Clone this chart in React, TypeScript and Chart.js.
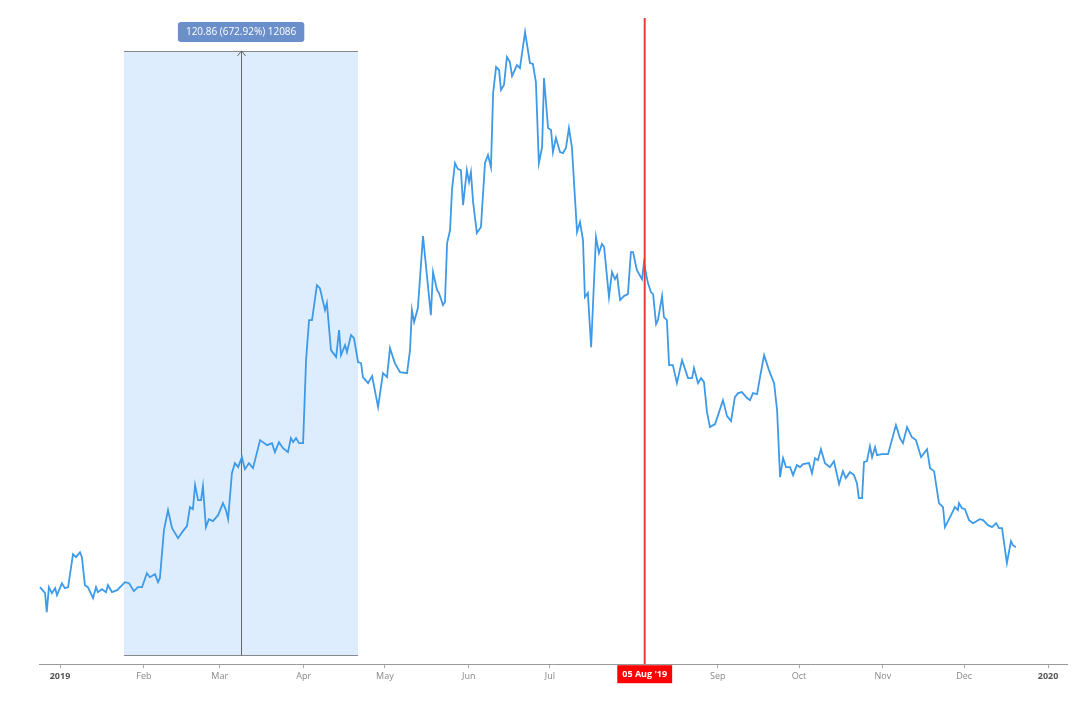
import { useEffect, useRef } from 'react'
import { Chart, registerables } from 'chart.js'

Chart.register(...registerables)

// day offsets from 1 Jan 2019
const DAYS = [
  -7.4, -5.5, -4.9, -4.1, -3.0, -1.8, -1.1, 0.7, 1.8, 3.0, 4.8, 5.9, 7.4, 8.1, 9.2, 10.3, 12.2, 13.3, 14.0, 15.5,
  17.0, 17.7, 19.2, 21.1, 24.0, 25.5, 27.3, 28.8, 30.3, 32.1, 33.2, 35.1, 36.2, 36.9, 38.4, 39.9, 41.4, 43.6, 45.4, 46.9,
  48.0, 49.1, 49.9, 51.0, 52.1, 52.8, 53.9, 55.0, 56.5, 58.4, 60.2, 61.3, 62.1, 63.5, 64.6, 65.8, 67.2, 68.3, 69.8, 71.3,
  73.9, 76.5, 78.3, 79.4, 80.9, 82.4, 84.2, 85.3, 86.1, 87.2, 88.3, 89.8, 90.9, 92.0, 93.1, 94.9, 96.0, 97.9, 98.6, 100.1,
  102.0, 103.1, 103.8, 105.3, 106.0, 107.5, 108.6, 110.1, 111.2, 111.9, 113.8, 115.3, 117.5, 119.3, 120.8, 121.9, 123.7, 125.6, 128.2, 129.3,
  130.0, 130.8, 132.2, 134.1, 135.6, 137.0, 137.8, 139.3, 140.0, 141.5, 142.2, 143.0, 144.1, 144.8, 145.9, 147.0, 148.1, 148.9, 150.3, 151.1,
  151.8, 152.6, 154.0, 155.5, 157.0, 158.1, 159.2, 160.0, 161.1, 162.2, 162.9, 164.0, 165.1, 166.2, 167.0, 168.8, 169.9, 171.8, 173.6, 174.7,
  175.8, 176.9, 178.1, 178.8, 180.3, 181.4, 182.1, 183.2, 184.7, 185.8, 186.9, 188.0, 189.1, 191.0, 192.1, 193.2, 193.9, 195.0, 196.2, 198.0,
  199.1, 200.2, 201.0, 202.8, 203.9, 205.0, 205.8, 206.9, 208.3, 209.8, 210.9, 211.7, 213.1, 215.0, 215.7, 217.2, 218.3, 219.1, 220.2, 220.9,
  222.4, 223.1, 224.2, 225.0, 226.4, 227.9, 229.8, 232.0, 233.5, 234.2, 235.7, 236.8, 237.9, 239.0, 240.1, 242.0, 243.1, 244.9, 246.4, 247.9,
  249.3, 250.5, 251.9, 253.8, 254.9, 256.0, 257.5, 258.6, 260.1, 261.9, 263.8, 264.9, 266.0, 267.1, 268.2, 269.7, 270.8, 272.2, 273.4, 274.5,
  276.7, 277.8, 278.9, 280.0, 281.1, 282.6, 284.4, 285.9, 287.8, 289.2, 290.3, 291.8, 293.3, 294.4, 295.1, 296.3, 297.0, 298.1, 299.2, 300.0,
  301.1, 301.8, 303.6, 305.9, 307.3, 308.8, 310.3, 311.4, 312.9, 314.7, 316.2, 318.1, 320.3, 321.4, 322.9, 324.7, 326.2, 326.9, 328.8, 330.6,
  331.7, 332.1, 333.2, 334.3, 335.8, 337.3, 339.8, 341.0, 342.8, 344.3, 345.8, 346.9, 348.0, 349.8, 351.3, 352.0, 353.1,
]

const PRICES = [
  31.6, 30.4, 26.6, 31.6, 30.4, 31.4, 30.0, 32.4, 31.4, 31.6, 38.2, 37.6, 38.6, 37.6, 32.0, 31.6, 29.4, 31.6, 30.6, 31.2,
  30.6, 32.0, 30.6, 31.0, 32.6, 32.4, 30.8, 31.6, 31.6, 34.4, 33.6, 34.2, 32.6, 33.4, 43.0, 47.0, 43.4, 41.4, 42.8, 43.8,
  47.6, 47.2, 52.0, 49.0, 49.0, 51.8, 43.6, 45.2, 44.8, 46.0, 48.4, 47.0, 45.2, 54.4, 56.4, 55.6, 57.6, 55.2, 56.4, 55.4,
  61.0, 60.0, 60.4, 58.6, 60.6, 59.4, 58.6, 61.4, 60.6, 61.4, 60.4, 60.4, 77.0, 85.0, 85.0, 92.0, 91.4, 87.0, 88.4, 79.0,
  77.6, 83.0, 78.0, 80.0, 78.6, 82.0, 81.4, 76.6, 76.4, 73.6, 72.4, 73.8, 67.6, 74.4, 73.6, 79.4, 76.4, 74.6, 74.4, 79.0,
  87.0, 84.6, 87.4, 101.8, 93.6, 86.0, 94.6, 91.0, 90.4, 88.0, 88.6, 100.4, 103.0, 111.0, 116.4, 115.2, 115.0, 108.0, 115.0, 112.6,
  114.6, 108.6, 102.4, 103.6, 116.4, 118.0, 115.6, 130.4, 135.6, 135.0, 131.0, 132.0, 137.6, 136.6, 133.8, 136.0, 135.4, 142.6, 136.4, 136.2,
  132.6, 116.4, 119.6, 133.4, 123.4, 123.0, 118.6, 121.4, 118.6, 118.4, 119.4, 123.4, 119.6, 102.6, 104.6, 101.0, 89.6, 90.4, 79.6, 101.6,
  98.4, 100.2, 99.6, 89.6, 94.6, 93.2, 94.0, 89.0, 89.8, 90.2, 98.6, 98.6, 95.0, 93.2, 96.4, 92.4, 90.6, 90.2, 84.2, 85.0,
  89.8, 85.6, 85.0, 76.0, 76.0, 72.4, 77.0, 73.4, 73.4, 75.4, 72.4, 73.4, 72.6, 66.6, 63.6, 64.2, 66.0, 69.0, 65.8, 64.8,
  69.6, 70.4, 70.6, 69.4, 69.0, 70.4, 70.2, 73.6, 78.0, 75.0, 72.4, 67.0, 53.6, 57.4, 55.6, 55.6, 54.0, 56.0, 55.6, 56.2,
  56.4, 54.4, 57.4, 57.0, 59.2, 56.4, 55.6, 56.8, 52.2, 54.8, 53.4, 54.6, 54.0, 52.4, 49.4, 49.4, 56.6, 56.8, 59.8, 57.6,
  59.6, 58.0, 58.2, 58.2, 61.0, 64.0, 61.4, 60.4, 63.6, 61.6, 61.0, 57.6, 59.2, 55.4, 54.8, 48.4, 47.6, 43.6, 45.6, 47.6,
  47.0, 48.4, 47.4, 47.2, 45.0, 44.4, 45.2, 45.0, 44.0, 43.6, 44.4, 43.4, 43.4, 36.4, 40.8, 40.0, 39.6,
]

const TICK_DAYS = [0, 31, 59, 90, 120, 151, 181, 212, 243, 273, 304, 334, 365]
const TICK_LABELS = ['2019', 'Feb', 'Mar', 'Apr', 'May', 'Jun', 'Jul', 'Aug', 'Sep', 'Oct', 'Nov', 'Dec', '2020']

// measurement box (days / values) and the crosshair date
const RANGE_FROM = 23.6
const RANGE_TO = 110.1
const RANGE_ARROW = 66.9
const RANGE_LOW = 17.96
const RANGE_HIGH = 138.82
const RANGE_TEXT = '120.86 (672.92%) 12086'
const CROSS_DAY = 216
const CROSS_TEXT = "05 Aug '19"

const overlays = {
  id: 'overlays',
  beforeDatasetsDraw(chart: Chart) {
    const { ctx, scales: { x, y } } = chart
    const x0 = x.getPixelForValue(RANGE_FROM)
    const x1 = x.getPixelForValue(RANGE_TO)
    const yTop = y.getPixelForValue(RANGE_HIGH)
    const yBot = y.getPixelForValue(RANGE_LOW)
    ctx.save()
    ctx.fillStyle = '#deedfd'
    ctx.fillRect(x0, yTop, x1 - x0, yBot - yTop)
    ctx.strokeStyle = '#888'
    ctx.lineWidth = 1
    ctx.beginPath()
    ctx.moveTo(x0, Math.round(yTop) + 0.5); ctx.lineTo(x1, Math.round(yTop) + 0.5)
    ctx.moveTo(x0, Math.round(yBot) + 0.5); ctx.lineTo(x1, Math.round(yBot) + 0.5)
    ctx.stroke()
    const xa = Math.round(x.getPixelForValue(RANGE_ARROW)) + 0.5
    ctx.strokeStyle = '#666'
    ctx.beginPath()
    ctx.moveTo(xa, yBot); ctx.lineTo(xa, yTop)
    ctx.moveTo(xa - 4, yTop + 5); ctx.lineTo(xa, yTop); ctx.lineTo(xa + 4, yTop + 5)
    ctx.stroke()
    ctx.restore()
  },
  afterDraw(chart: Chart) {
    const { ctx, chartArea, scales: { x, y } } = chart
    const yTop = y.getPixelForValue(RANGE_HIGH)
    const xa = x.getPixelForValue(RANGE_ARROW)
    ctx.save()
    ctx.font = "10px 'Open Sans'"
    const tw = ctx.measureText(RANGE_TEXT).width
    const bw = tw + 16
    ctx.fillStyle = '#6b8fca'
    ctx.beginPath()
    ctx.roundRect(xa - bw / 2, yTop - 29, bw, 20, 3)
    ctx.fill()
    ctx.fillStyle = '#fff'
    ctx.textAlign = 'center'
    ctx.textBaseline = 'middle'
    ctx.fillText(RANGE_TEXT, xa, yTop - 19)

    const xc = x.getPixelForValue(CROSS_DAY)
    ctx.strokeStyle = '#f03a3a'
    ctx.lineWidth = 2
    ctx.beginPath()
    ctx.moveTo(xc, chartArea.top); ctx.lineTo(xc, chartArea.bottom)
    ctx.stroke()
    ctx.font = "bold 9px 'Open Sans'"
    const cw = ctx.measureText(CROSS_TEXT).width + 10
    ctx.fillStyle = '#ff0000'
    ctx.fillRect(xc - cw / 2, chartArea.bottom + 1, cw, 18)
    ctx.fillStyle = '#fff'
    ctx.fillText(CROSS_TEXT, xc, chartArea.bottom + 10.5)
    ctx.restore()
  },
}

export default function App() {
  const canvasRef = useRef<HTMLCanvasElement>(null)

  useEffect(() => {
    if (!canvasRef.current) return
    const chart = new Chart(canvasRef.current, {
      type: 'line',
      data: {
        datasets: [{
          data: DAYS.map((d, i) => ({ x: d, y: PRICES[i] })),
          borderColor: '#3d9ae8',
          borderWidth: 1.8,
          pointRadius: 0,
          tension: 0,
          fill: false,
        }],
      },
      options: {
        animation: false,
        responsive: true,
        maintainAspectRatio: false,
        layout: { padding: { left: 39, right: 13, top: 18, bottom: 18 } },
        plugins: { legend: { display: false }, tooltip: { enabled: false } },
        scales: {
          x: {
            type: 'linear',
            min: -7.76,
            max: 372,
            afterBuildTicks: (axis) => { axis.ticks = TICK_DAYS.map((v) => ({ value: v })) },
            grid: { drawOnChartArea: false, drawTicks: true, tickLength: 4, color: '#aaa' },
            border: { display: true, color: '#999' },
            ticks: {
              autoSkip: false,
              maxRotation: 0,
              padding: 3,
              font: (c: any) => ({ family: "'Open Sans'", size: 9, weight: (c.index === 0 || c.index === TICK_DAYS.length - 1) ? 'bold' : 'normal' }),
              color: (c: any) => (c.index === 0 || c.index === TICK_DAYS.length - 1) ? '#555' : '#888',
              callback: (v) => TICK_LABELS[TICK_DAYS.indexOf(Number(v))] ?? '',
            },
          },
          y: { display: false, min: 16.2, max: 145.4 },
        },
      },
      plugins: [overlays],
    })
    return () => chart.destroy()
  }, [])

  return (
    <div style={{ position: 'absolute', left: 0, top: 0, width: 1080, height: 703, background: '#fff' }}>
      <canvas ref={canvasRef} />
    </div>
  )
}
